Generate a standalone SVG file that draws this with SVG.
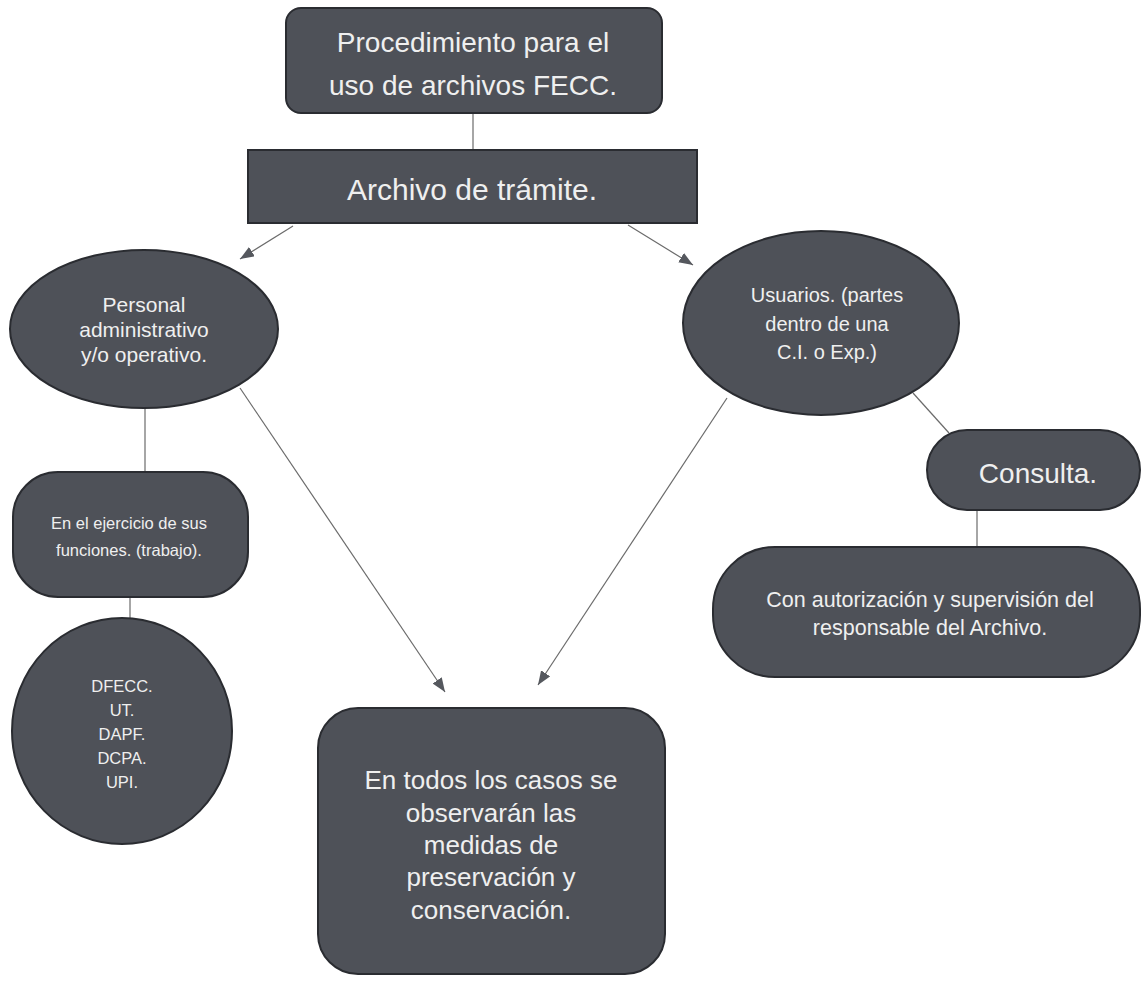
<svg xmlns="http://www.w3.org/2000/svg" width="1143" height="981" viewBox="0 0 1143 981">
<defs>
<style>
.n{fill:#4e5158;stroke:#2a2c31;stroke-width:2}
.t{fill:#efefef;font-family:"Liberation Sans",Arial,sans-serif;text-anchor:middle}
.c{stroke:#6b6b6b;stroke-width:1.2;fill:none}
.a{stroke:#6b6b6b;stroke-width:1.2;fill:none;marker-end:url(#ah)}
</style>
<marker id="ah" markerUnits="userSpaceOnUse" markerWidth="16" markerHeight="12" refX="14" refY="5.5" orient="auto">
<path d="M0,0 L14,5.5 L0,11 z" fill="#55585e"/>
</marker>
</defs>
<rect width="1143" height="981" fill="#ffffff"/>
<g id="connectors">
<line class="c" x1="473" y1="113" x2="473" y2="150"/>
<line class="a" x1="293" y1="226" x2="240" y2="259"/>
<line class="a" x1="628" y1="225" x2="693" y2="265"/>
<line class="a" x1="240" y1="388" x2="445" y2="692"/>
<line class="a" x1="727" y1="398" x2="538" y2="685"/>
<line class="c" x1="145" y1="407" x2="145" y2="472"/>
<line class="c" x1="130" y1="597" x2="130" y2="618"/>
<line class="c" x1="913" y1="393" x2="949" y2="433"/>
<line class="c" x1="977" y1="510" x2="977" y2="547"/>
</g>
<g id="n-procedimiento">
<rect class="n" x="286" y="8" width="376" height="105" rx="15"/>
<text class="t" x="473" y="52" font-size="28">Procedimiento para el</text>
<text class="t" x="473" y="95" font-size="28">uso de archivos FECC.</text>
</g>
<g id="n-archivo">
<rect class="n" x="248" y="150" width="449" height="73"/>
<text class="t" x="472" y="200" font-size="30">Archivo de trámite.</text>
</g>
<g id="n-personal">
<ellipse class="n" cx="144" cy="329" rx="134" ry="79"/>
<text class="t" x="144" y="312" font-size="21">Personal</text>
<text class="t" x="144" y="337" font-size="21">administrativo</text>
<text class="t" x="144" y="362" font-size="21">y/o operativo.</text>
</g>
<g id="n-usuarios">
<ellipse class="n" cx="821" cy="323" rx="138" ry="92"/>
<text class="t" x="827" y="302" font-size="20">Usuarios. (partes</text>
<text class="t" x="827" y="331" font-size="20">dentro de una</text>
<text class="t" x="827" y="359" font-size="20">C.I. o Exp.)</text>
</g>
<g id="n-ejercicio">
<rect class="n" x="13" y="472" width="235" height="125" rx="45"/>
<text class="t" x="129" y="529" font-size="16.5">En el ejercicio de sus</text>
<text class="t" x="129" y="556" font-size="16.5">funciones. (trabajo).</text>
</g>
<g id="n-dependencias">
<ellipse class="n" cx="122" cy="731" rx="110" ry="113"/>
<text class="t" x="122" y="692" font-size="16.5">DFECC.</text>
<text class="t" x="122" y="716" font-size="16.5">UT.</text>
<text class="t" x="122" y="740" font-size="16.5">DAPF.</text>
<text class="t" x="122" y="764" font-size="16.5">DCPA.</text>
<text class="t" x="122" y="788" font-size="16.5">UPI.</text>
</g>
<g id="n-consulta">
<rect class="n" x="927" y="430" width="213" height="80" rx="40"/>
<text class="t" x="1038" y="483" font-size="28">Consulta.</text>
</g>
<g id="n-autorizacion">
<rect class="n" x="713" y="547" width="427" height="130" rx="62"/>
<text class="t" x="930" y="607" font-size="21.5">Con autorización y supervisión del</text>
<text class="t" x="930" y="635" font-size="21.5">responsable del Archivo.</text>
</g>
<g id="n-medidas">
<rect class="n" x="318" y="708" width="347" height="266" rx="40"/>
<text class="t" x="491" y="789" font-size="26">En todos los casos se</text>
<text class="t" x="491" y="822" font-size="26">observarán las</text>
<text class="t" x="491" y="854" font-size="26">medidas de</text>
<text class="t" x="491" y="886" font-size="26">preservación y</text>
<text class="t" x="491" y="919" font-size="26">conservación.</text>
</g>
</svg>
